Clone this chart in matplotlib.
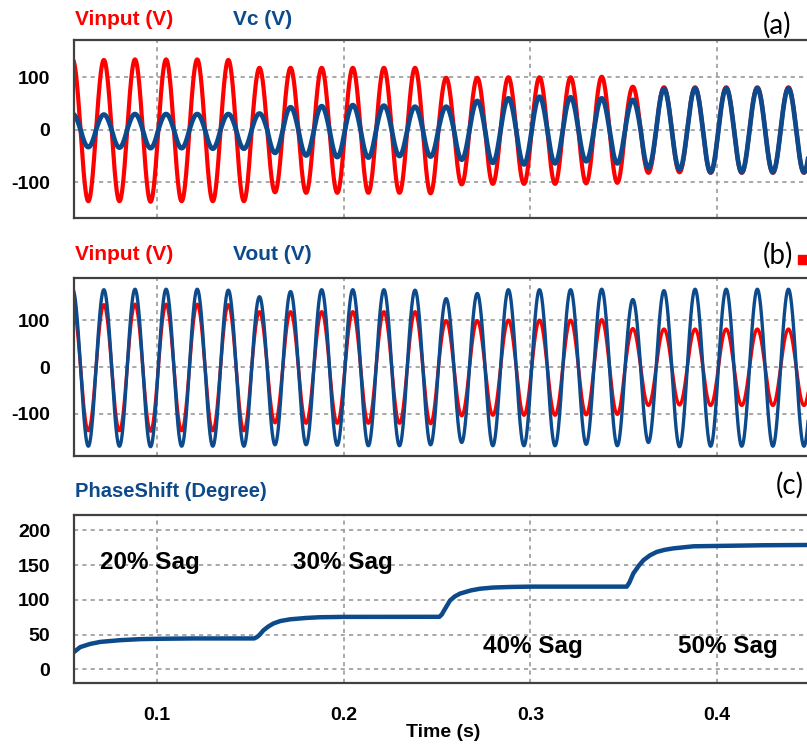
import numpy as np
import matplotlib
matplotlib.use("Agg")
import matplotlib.pyplot as plt
from matplotlib.patches import Rectangle

plt.rcParams['font.family'] = ['Liberation Sans', 'DejaVu Sans']
plt.rcParams['axes.unicode_minus'] = False

# --- datos ---
f_red = 60.0            # frecuencia de red (Hz)
t_pico0 = 0.0715        # instante del primer pico positivo (s)
t_ini, t_fin = 0.0555, 0.4524

# amplitud de cada semiciclo (valor absoluto), semiciclos k = -2 .. 46
vin_amp = [133, 136, 133, 136, 134, 137, 134, 136, 134, 136, 133, 136,
           118, 119, 118, 120, 118, 120, 118, 120, 118, 120, 118, 121,
           99, 104, 99, 103, 100, 103, 100, 103, 100, 102, 101, 101,
           82, 82, 81, 81, 81, 82, 81, 82, 81, 82, 81, 82, 81]
vc_amp = [30, 33, 29, 34, 30, 35, 30, 35, 30, 36, 30, 36,
          31, 44, 43, 49, 45, 52, 47, 53, 46, 50, 44, 51,
          44, 57, 55, 63, 60, 66, 63, 64, 62, 60, 60, 64,
          57, 73, 78, 76, 79, 81, 79, 81, 79, 81, 79, 81, 79]
vout_amp = [165, 169, 165, 169, 166, 170, 166, 169, 166, 169, 164, 169,
            150, 166, 161, 166, 165, 167, 165, 168, 165, 168, 164, 166,
            146, 161, 157, 168, 165, 168, 165, 168, 165, 165, 166, 168,
            144, 161, 163, 170, 166, 169, 166, 169, 166, 169, 166, 169, 166]

# desfase (grados)
t_fase = [0.0555, 0.0588, 0.0640, 0.0695, 0.0802, 0.0909, 0.100, 0.120, 0.152,
          0.1535, 0.1550, 0.1569, 0.1595, 0.1623, 0.1660, 0.1712, 0.1800, 0.1873,
          0.200, 0.2512, 0.2525, 0.2540, 0.2569, 0.2595, 0.2623, 0.2680, 0.2730,
          0.2800, 0.2891, 0.300, 0.3516, 0.3530, 0.3551, 0.3580, 0.3605, 0.3640,
          0.3677, 0.3720, 0.3765, 0.3873, 0.4247, 0.4550]
fase = [25, 32, 36.5, 39.5, 42, 43.5, 44, 44.5, 44.5,
        46.5, 50, 56, 61.5, 66, 69.5, 72, 74, 75,
        75.5, 75.6, 79, 86, 99, 105, 109, 113.5, 116,
        117.7, 118.5, 119, 119, 125, 138, 149, 157, 164,
        169, 172, 174, 177, 178.5, 179]

etiquetas_sag = ["20% Sag", "30% Sag", "40% Sag", "50% Sag"]
pos_sag = [(0.0695, 145), (0.173, 145), (0.2748, 23), (0.3792, 23)]

rojo = '#ff0000'
azul = '#0c4a8c'


def onda(t, amps):
    # cada semiciclo usa su propia amplitud
    medio = 0.5 / f_red
    idx = np.round((t - t_pico0) / medio).astype(int) + 2
    idx = np.clip(idx, 0, len(amps) - 1)
    return np.asarray(amps, float)[idx] * np.cos(2 * np.pi * f_red * (t - t_pico0))


t = np.arange(t_ini, t_fin, 0.00005)
vin = onda(t, vin_amp)
vc = onda(t, vc_amp)
vout = onda(t, vout_amp)

W, H = 807, 744
fig = plt.figure(figsize=(W / 100, H / 100), dpi=100)


def ejes(top, bottom, left=74, right=815):
    return fig.add_axes([left / W, 1 - bottom / H, (right - left) / W, (bottom - top) / H])


def estilo(ax, yticks, ylim):
    ax.set_xlim(t_ini, t_fin)
    ax.set_ylim(*ylim)
    ax.set_yticks(yticks)
    ax.set_xticks([0.1, 0.2, 0.3, 0.4])
    ax.grid(True, color='#9a9a9a', linestyle=(0, (2.5, 2.5)), linewidth=1.2)
    ax.tick_params(length=0, labelsize=14, pad=17)
    for lab in ax.get_yticklabels() + ax.get_xticklabels():
        lab.set_fontweight('bold')
    for s in ax.spines.values():
        s.set_color('#404040')
        s.set_linewidth(1.6)


# (a) tensión de entrada y del compensador
ax1 = ejes(40, 218)
ax1.plot(t, vin, color=rojo, lw=3.0)
ax1.plot(t, vc, color=azul, lw=3.4)
estilo(ax1, [-100, 0, 100], (-168, 171))
ax1.set_xticklabels([])

# (b) tensión de entrada y de salida
ax2 = ejes(277.7, 456.5)
ax2.plot(t, vin, color=rojo, lw=2.4)
ax2.plot(t, vout, color=azul, lw=2.4)
estilo(ax2, [-100, 0, 100], (-191, 190.6))
ax2.set_xticklabels([])

# (c) desfase
ax3 = ejes(515, 683.3)
ax3.plot(t_fase, fase, color=azul, lw=3.2, solid_capstyle='round')
estilo(ax3, [0, 50, 100, 150, 200], (-20, 222))
for txt, (x, y) in zip(etiquetas_sag, pos_sag):
    ax3.text(x, y, txt, fontsize=17.5, fontweight='bold', va='baseline')

# títulos de las señales
fig.text(75 / W, 1 - 25 / H, "Vinput (V)", color=rojo, fontsize=15, fontweight='bold', va='baseline')
fig.text(233 / W, 1 - 25 / H, "Vc (V)", color=azul, fontsize=15, fontweight='bold', va='baseline')
fig.text(75 / W, 1 - 260 / H, "Vinput (V)", color=rojo, fontsize=15, fontweight='bold', va='baseline')
fig.text(233 / W, 1 - 260 / H, "Vout (V)", color=azul, fontsize=15, fontweight='bold', va='baseline')
fig.text(75 / W, 1 - 497 / H, "PhaseShift (Degree)", color=azul, fontsize=14.5, fontweight='bold', va='baseline')

fig.text(763 / W, 1 - 25 / H, "(a)", fontsize=20, family=['Lato', 'DejaVu Sans'], va='center')
fig.text(763 / W, 1 - 255 / H, "(b)", fontsize=20, family=['Lato', 'DejaVu Sans'], va='center')
fig.text(776 / W, 1 - 485 / H, "(c)", fontsize=20, family=['Lato', 'DejaVu Sans'], va='center')
fig.patches.append(Rectangle((798 / W, 1 - 264 / H), 10 / W, 9 / H, transform=fig.transFigure,
                             color=rojo, figure=fig))

fig.text(443 / W, 1 - 737 / H, "Time (s)", fontsize=14, fontweight='bold', ha='center', va='baseline')

fig.savefig("out.png", dpi=100)
